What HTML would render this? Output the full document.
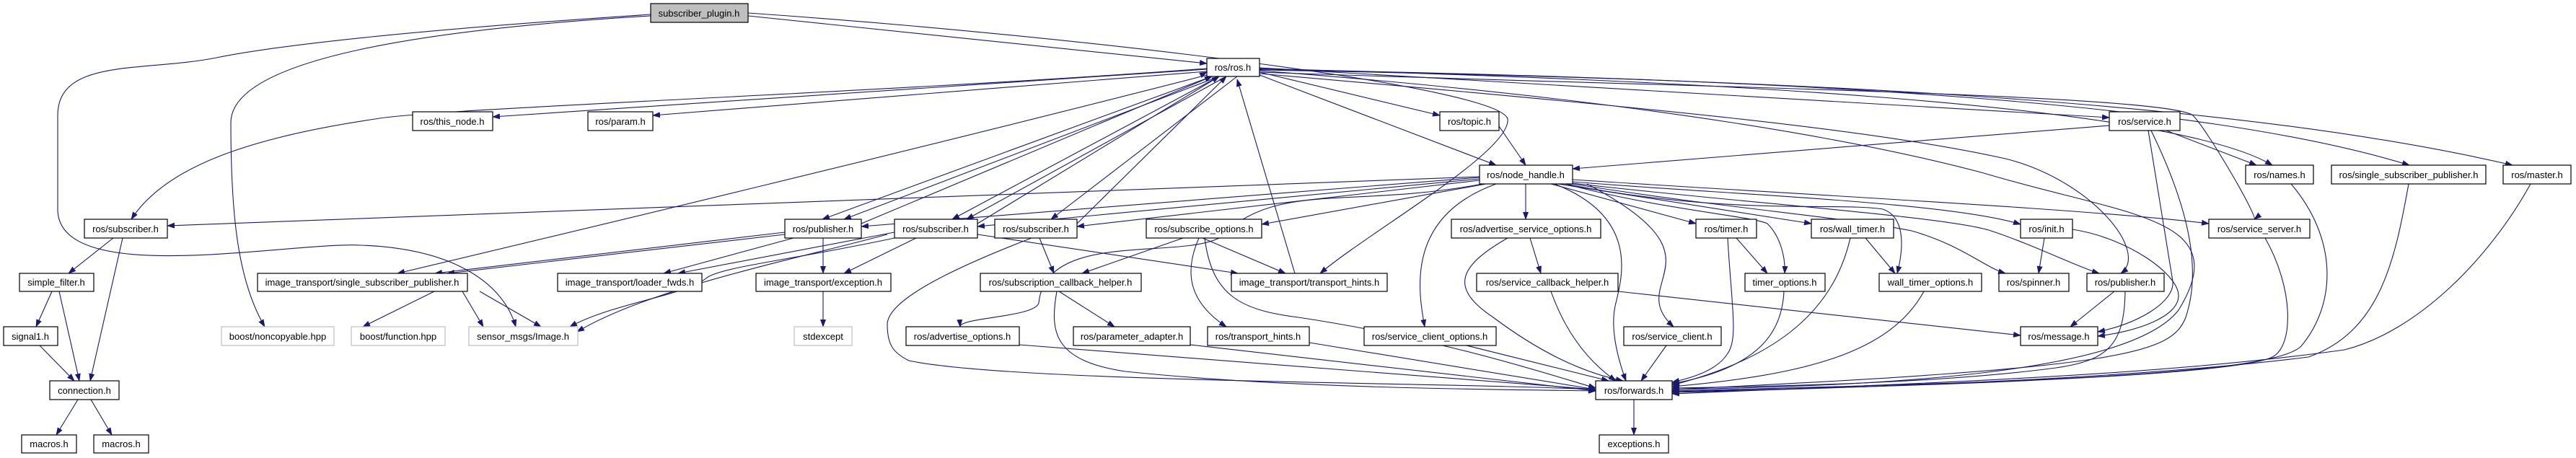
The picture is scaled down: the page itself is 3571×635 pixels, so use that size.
<!DOCTYPE html>
<html><head><meta charset="utf-8"><style>
html,body{margin:0;padding:0;background:#fff;width:3571px;height:635px;overflow:hidden}
svg{display:block}
text{font-family:"Liberation Sans",sans-serif;font-size:13px;text-anchor:middle;fill:#000}
.e{fill:none;stroke:#191970;stroke-width:1.1}
rect{fill:#fff;stroke:#000;stroke-width:1.2}
rect.g{stroke:#bfbfbf}
</style></head><body>
<svg width="3571" height="635" viewBox="0 0 3571 635" xmlns="http://www.w3.org/2000/svg">
<defs><marker id="a" markerWidth="11" markerHeight="8" refX="10" refY="4" orient="auto" markerUnits="userSpaceOnUse"><path d="M0,0 L11,4 L0,8 z" fill="#191970"/></marker></defs>
<g class="e" marker-end="url(#a)">
<!-- plugin -->
<path d="M1037,22 L1673,88"/>
<path d="M1037,18 C1500,50 2080,120 2090,165 C2095,210 1900,320 1830,379"/>
<path d="M902,20 C600,40 400,60 300,80 C200,100 80,80 80,160 L80,290 C80,400 400,335 500,340 C640,345 700,400 715,453"/>
<path d="M902,22 C600,40 320,80 320,170 C320,300 330,390 367,453"/>
<!-- ros.h out -->
<path d="M1673,96 L683,162"/>
<path d="M1673,99 L905,160"/>
<path d="M1673,95 C1200,130 600,150 520,165 C350,190 230,230 182,304"/>
<path d="M1673,104 C1300,200 800,320 551,379"/>
<path d="M1680,106 L1140,304"/>
<path d="M1690,106 L1170,304"/>
<path d="M1690,106 L1320,304"/>
<path d="M1700,106 L1340,304"/>
<path d="M1715,106 L1457,304"/>
<path d="M1746,100 L1996,160"/>
<path d="M1746,104 L2074,229"/>
<path d="M1746,94 L2924,163"/>
<path d="M1746,95 C2300,110 3000,140 3150,229"/>
<path d="M1746,96 C2500,110 3050,140 3340,229"/>
<path d="M1746,97 C2500,110 3100,140 3483,229"/>
<path d="M1746,100 C2300,120 3000,130 3040,160 C3060,180 3130,300 3125,304"/>
<path d="M1746,102 C2300,150 2600,180 2780,220 C2900,250 2980,350 2940,379"/>
<path d="M1746,98 C2300,140 2600,200 2750,240 C2950,300 3100,300 3020,430 C2950,520 2600,535 2318,540"/>
<!-- reverse into ros.h -->
<path d="M1795,379 L1715,110"/>
<path d="M2078,175 L2115,229"/>
<!-- ros subscriber left -->
<path d="M2051,245 L232,313"/>
<path d="M157,330 L95,379"/>
<path d="M170,330 L125,528"/>
<path d="M72,404 L50,453"/>
<path d="M82,404 L110,528"/>
<path d="M55,479 L103,528"/>
<path d="M108,554 L78,603"/>
<path d="M126,554 L155,603"/>
<!-- node_handle out -->
<path d="M2051,246 L1194,314"/>
<path d="M2051,248 L1355,314"/>
<path d="M2051,250 L1493,314"/>
<path d="M2060,255 L1749,311"/>
<path d="M2115,255 L2115,304"/>
<path d="M2150,255 L2351,310"/>
<path d="M2160,255 L2511,310"/>
<path d="M2170,255 C2400,300 2550,280 2610,290 C2640,300 2640,340 2630,379 "/>
<path d="M2180,252 C2400,270 2700,280 2801,311"/>
<path d="M2180,249 C2500,270 2900,290 3062,310"/>
<path d="M2180,255 C2400,290 2550,300 2650,320 C2720,340 2750,370 2780,379"/>
<path d="M2180,254 C2400,280 2700,300 2760,320 C2820,340 2880,370 2910,379"/>
<path d="M2170,255 C2300,290 2430,300 2450,310 C2470,330 2475,360 2474,379"/>
<path d="M2074,255 C1950,300 1965,400 1975,453"/>
<path d="M2200,255 C2400,360 2250,390 2320,453"/>
<path d="M2155,255 C2270,300 2250,380 2240,420 C2232,450 2240,490 2254,528"/>
<path d="M2055,255 C1870,290 1770,250 1690,330 C1630,360 1450,320 1440,420 C1435,440 1330,440 1331,453"/>
<!-- publisher / subscribers -->
<path d="M1088,322 L603,379"/>
<path d="M1088,325 L620,379"/>
<path d="M1100,330 L920,379"/>
<path d="M1240,322 L940,379"/>
<path d="M1141,330 L1141,379"/>
<path d="M1270,330 L1170,379"/>
<path d="M1355,325 L1716,379"/>
<path d="M1240,330 C1100,360 1000,370 980,385 C950,410 850,420 790,453"/>
<path d="M1430,330 C1300,380 1230,420 1230,450 C1230,480 1240,490 1260,500 C1400,530 2000,530 2212,540"/>
<path d="M1441,330 L1461,379"/>
<path d="M1640,330 L1500,379"/>
<path d="M1667,330 L1782,379"/>
<path d="M1662,330 C1640,380 1650,420 1700,453"/>
<path d="M1670,330 C1680,410 1720,430 1800,440 C2000,470 2150,520 2212,538"/>
<path d="M1468,404 L1545,453"/>
<path d="M1465,404 C1455,460 1460,500 1560,515 C1800,540 2100,540 2212,542"/>
<path d="M1413,478 L2212,540"/>
<path d="M1650,478 L2212,542"/>
<path d="M1815,475 L2212,540"/>
<path d="M602,404 L503,453"/>
<path d="M641,404 L670,453"/>
<path d="M665,404 L750,453"/>
<path d="M1141,404 L1141,453"/>
<path d="M1230,325 C1100,360 900,400 800,460"/>
<!-- right side -->
<path d="M2090,330 C2020,370 2010,400 2070,440 C2150,500 2210,520 2250,528"/>
<path d="M2121,330 L2136,379"/>
<path d="M2150,404 C2170,460 2200,500 2240,528"/>
<path d="M2243,404 L2801,465"/>
<path d="M2029,478 L2230,528"/>
<path d="M2310,479 L2275,528"/>
<path d="M2395,330 C2400,420 2410,470 2395,490 C2380,515 2340,525 2318,530"/>
<path d="M2407,330 L2450,379"/>
<path d="M2473,404 C2470,460 2440,510 2318,532"/>
<path d="M2565,330 C2540,440 2450,500 2318,534"/>
<path d="M2586,330 L2627,379"/>
<path d="M2667,404 C2620,490 2500,520 2318,536"/>
<path d="M2834,330 L2826,379"/>
<path d="M2873,318 C2950,330 3020,380 3020,410 C3020,440 2960,460 2908,466"/>
<path d="M2931,404 L2870,453"/>
<path d="M2946,404 C2945,480 2920,500 2850,510 C2700,530 2500,535 2318,538"/>
<path d="M2924,174 L2180,234"/>
<path d="M3003,181 L3128,229"/>
<path d="M2978,181 L3012,390 C3015,420 2960,450 2908,460"/>
<path d="M2982,181 C3040,300 3050,380 3030,440 C3010,490 2950,510 2318,540"/>
<path d="M3176,255 C3240,330 3240,420 3190,480 C3150,520 2800,530 2318,542"/>
<path d="M3339,255 C3320,360 3300,460 3200,495 C3000,520 2700,535 2318,544"/>
<path d="M3508,255 C3450,360 3350,460 3250,485 C3000,520 2700,530 2318,546"/>
<path d="M3140,330 C3180,400 3180,480 3150,495 C3100,520 2700,535 2318,543"/>
<path d="M2265,554 L2265,603"/>
<path d="M1241,314 L1673,100" stroke-opacity="0"/>
</g>
<!-- reverse arrows to ros.h -->
<g class="e" marker-end="url(#a)">
<path d="M1194,310 L1680,106"/>
<path d="M1355,310 L1690,106"/>
<path d="M1493,310 L1700,106"/>
</g>
<!-- nodes -->
<g>
<rect x="902" y="5" width="135" height="26" style="fill:#bfbfbf"/><text x="969" y="23">subscriber_plugin.h</text>
<rect x="1673" y="81" width="73" height="25"/><text x="1709" y="98">ros/ros.h</text>
<rect x="572" y="155" width="111" height="26"/><text x="627" y="173">ros/this_node.h</text>
<rect x="815" y="155" width="90" height="26"/><text x="860" y="173">ros/param.h</text>
<rect x="1996" y="155" width="82" height="26"/><text x="2037" y="173">ros/topic.h</text>
<rect x="2924" y="155" width="98" height="26"/><text x="2973" y="173">ros/service.h</text>
<rect x="2051" y="229" width="129" height="26"/><text x="2115" y="247">ros/node_handle.h</text>
<rect x="3113" y="229" width="94" height="26"/><text x="3160" y="247">ros/names.h</text>
<rect x="3232" y="229" width="214" height="26"/><text x="3339" y="247">ros/single_subscriber_publisher.h</text>
<rect x="3470" y="229" width="94" height="26"/><text x="3517" y="247">ros/master.h</text>
<rect x="117" y="304" width="115" height="26"/><text x="174" y="322">ros/subscriber.h</text>
<rect x="1088" y="304" width="106" height="26"/><text x="1141" y="322">ros/publisher.h</text>
<rect x="1240" y="304" width="115" height="26"/><text x="1297" y="322">ros/subscriber.h</text>
<rect x="1379" y="304" width="114" height="26"/><text x="1436" y="322">ros/subscriber.h</text>
<rect x="1589" y="304" width="160" height="26"/><text x="1669" y="322">ros/subscribe_options.h</text>
<rect x="2012" y="304" width="207" height="26"/><text x="2115" y="322">ros/advertise_service_options.h</text>
<rect x="2351" y="304" width="84" height="26"/><text x="2393" y="322">ros/timer.h</text>
<rect x="2511" y="304" width="114" height="26"/><text x="2568" y="322">ros/wall_timer.h</text>
<rect x="2801" y="304" width="72" height="26"/><text x="2837" y="322">ros/init.h</text>
<rect x="3062" y="304" width="140" height="26"/><text x="3132" y="322">ros/service_server.h</text>
<rect x="27" y="379" width="103" height="25"/><text x="78" y="396">simple_filter.h</text>
<rect x="357" y="379" width="291" height="25"/><text x="502" y="396">image_transport/single_subscriber_publisher.h</text>
<rect x="773" y="379" width="200" height="25"/><text x="873" y="396">image_transport/loader_fwds.h</text>
<rect x="1048" y="379" width="187" height="25"/><text x="1141" y="396">image_transport/exception.h</text>
<rect x="1359" y="379" width="223" height="25"/><text x="1470" y="396">ros/subscription_callback_helper.h</text>
<rect x="1707" y="379" width="216" height="25"/><text x="1815" y="396">image_transport/transport_hints.h</text>
<rect x="2047" y="379" width="196" height="25"/><text x="2145" y="396">ros/service_callback_helper.h</text>
<rect x="2419" y="379" width="111" height="25"/><text x="2474" y="396">timer_options.h</text>
<rect x="2605" y="379" width="142" height="25"/><text x="2676" y="396">wall_timer_options.h</text>
<rect x="2771" y="379" width="97" height="25"/><text x="2819" y="396">ros/spinner.h</text>
<rect x="2893" y="379" width="107" height="25"/><text x="2946" y="396">ros/publisher.h</text>
<rect x="5" y="453" width="75" height="26"/><text x="42" y="471">signal1.h</text>
<rect class="g" x="307" y="453" width="156" height="26"/><text x="385" y="471">boost/noncopyable.hpp</text>
<rect class="g" x="487" y="453" width="130" height="26"/><text x="552" y="471">boost/function.hpp</text>
<rect class="g" x="650" y="453" width="151" height="26"/><text x="725" y="471">sensor_msgs/Image.h</text>
<rect class="g" x="1101" y="453" width="80" height="26"/><text x="1141" y="471">stdexcept</text>
<rect x="1256" y="453" width="157" height="26"/><text x="1334" y="471">ros/advertise_options.h</text>
<rect x="1488" y="453" width="162" height="26"/><text x="1569" y="471">ros/parameter_adapter.h</text>
<rect x="1674" y="453" width="141" height="26"/><text x="1744" y="471">ros/transport_hints.h</text>
<rect x="1891" y="453" width="183" height="26"/><text x="1982" y="471">ros/service_client_options.h</text>
<rect x="2251" y="453" width="135" height="26"/><text x="2318" y="471">ros/service_client.h</text>
<rect x="2801" y="453" width="107" height="26"/><text x="2854" y="471">ros/message.h</text>
<rect x="69" y="528" width="96" height="26"/><text x="117" y="546">connection.h</text>
<rect x="2212" y="528" width="106" height="26"/><text x="2265" y="546">ros/forwards.h</text>
<rect x="30" y="603" width="76" height="25"/><text x="68" y="620">macros.h</text>
<rect x="130" y="603" width="76" height="25"/><text x="168" y="620">macros.h</text>
<rect x="2217" y="603" width="96" height="25"/><text x="2265" y="620">exceptions.h</text>
</g>
</svg>
</body></html>
